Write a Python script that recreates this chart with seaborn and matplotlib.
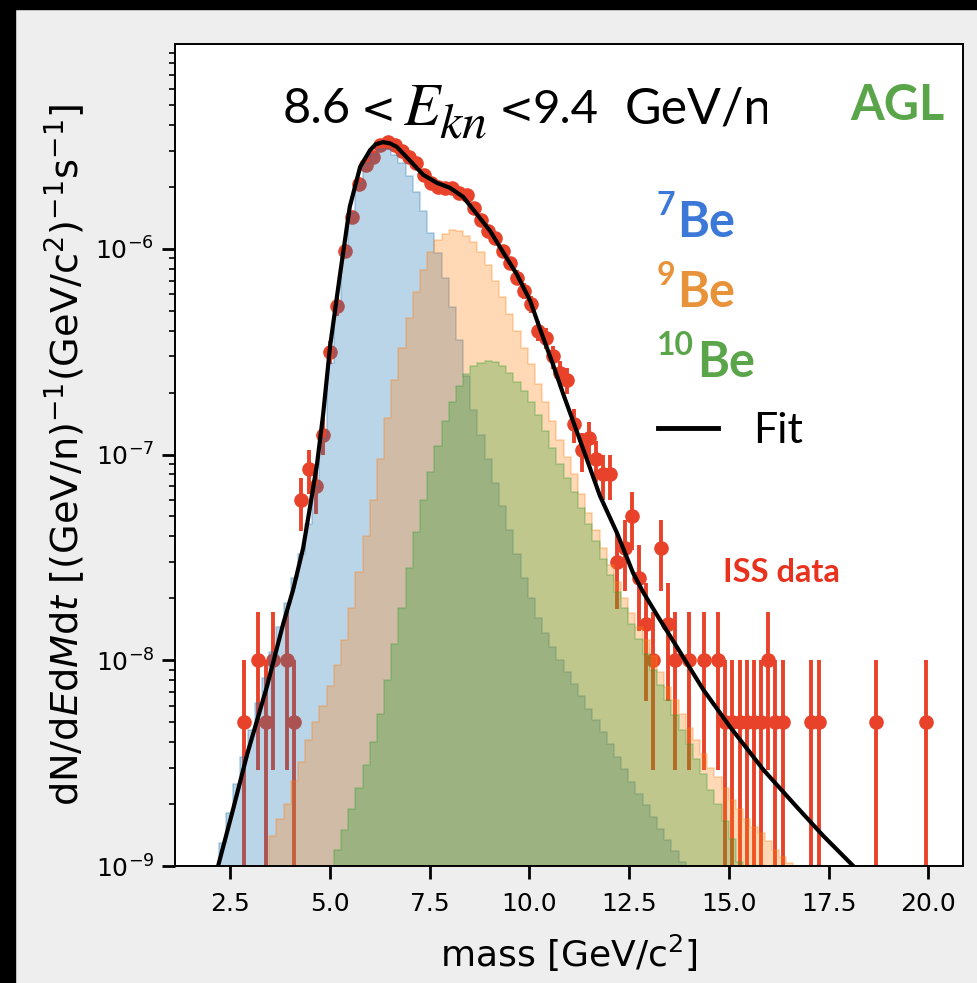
import numpy as np
import matplotlib
matplotlib.use("Agg")
import matplotlib.pyplot as plt
import seaborn as sns
from matplotlib.colors import to_rgba
from matplotlib.transforms import Bbox, TransformedBbox
from matplotlib.patches import Rectangle
from matplotlib.lines import Line2D

# ------------------------------------------------------------------
# values
# ------------------------------------------------------------------
bin_width = 0.18  # GeV/c^2, same binning for ISS data and templates

# template histograms, flux per bin in units of 1e-9, from the first lower edge on
be7_first_edge = 2.22
be7_flux = [1.3, 1.8, 2.5, 3.4, 4.6, 6.2, 8.2, 11, 14.5, 19, 25, 33, 46, 70, 120,
            280, 540, 950, 1500, 2100, 2600, 2900, 3050, 3050, 2850, 2600, 2250,
            1880, 1520, 1200, 950, 720, 520, 360, 240, 165, 125, 95, 73, 56, 43,
            33, 25, 20, 16, 13.5, 11.6, 10.0, 8.8, 7.7, 6.7, 5.8, 5.1, 4.5, 3.9,
            3.4, 2.95, 2.55, 2.25, 1.97, 1.73, 1.52, 1.34, 1.18, 1.04]

be9_first_edge = 3.48
be9_flux = [1.4, 1.7, 2.0, 2.6, 3.2, 4.1, 5.0, 6.0, 7.5, 9.5, 12.5, 18, 27, 40, 60,
            95, 150, 230, 330, 460, 620, 790, 960, 1100, 1180, 1230, 1220, 1160,
            1080, 960, 830, 700, 580, 480, 400, 330, 275, 220, 180, 145, 118, 97,
            80, 64, 52, 43, 35, 29, 24, 20, 17, 14.5, 12.5, 10.5, 8.8, 7.4, 6.4,
            5.5, 4.7, 4.1, 3.5, 3.0, 2.7, 2.4, 2.1, 1.9, 1.7, 1.55, 1.45, 1.32,
            1.2, 1.1, 1.03]

be10_first_edge = 5.10
be10_flux = [1.2, 1.5, 1.9, 2.4, 3.1, 4.0, 5.5, 8.0, 12, 18, 28, 42, 60, 82, 110,
             145, 180, 215, 245, 268, 280, 285, 282, 268, 248, 226, 203, 180, 155,
             130, 108, 90, 77, 66, 55, 46, 38, 31, 26, 21.5, 18, 15, 12.7, 10.7,
             9.0, 7.6, 6.4, 5.4, 4.6, 3.9, 3.3, 2.8, 2.35, 2.0, 1.65, 1.35, 1.05]

# ISS data: bin centre and number of events (empty bins left out)
iss_mass = [2.85, 3.21, 3.39, 3.57, 3.93, 4.11, 4.29, 4.47, 4.65, 4.83, 5.01, 5.19,
            5.37, 5.55, 5.73, 5.91, 6.09, 6.27, 6.45, 6.63, 6.81, 6.99, 7.17, 7.35,
            7.53, 7.71, 7.89, 8.07, 8.25, 8.43, 8.61, 8.79, 8.97, 9.15, 9.33, 9.51,
            9.69, 9.87, 10.05, 10.23, 10.41, 10.59, 10.77, 10.95, 11.13, 11.31,
            11.49, 11.67, 11.85, 12.03, 12.21, 12.39, 12.57, 12.75, 12.93, 13.11,
            13.29, 13.47, 13.65, 14.01, 14.37, 14.73, 14.91, 15.09, 15.27, 15.45,
            15.63, 15.81, 15.99, 16.17, 16.35, 17.07, 17.25, 18.69, 19.95]
iss_counts = [1, 2, 1, 2, 2, 1, 12, 17, 14, 25, 63, 105, 196, 287, 414, 512, 560,
              640, 664, 640, 600, 560, 520, 455, 420, 400, 395, 395, 375, 365, 315,
              275, 245, 225, 195, 170, 145, 125, 108, 80, 74, 60, 50, 46, 28, 21, 24,
              19, 16, 16, 6, 7, 10, 5, 3, 2, 7, 3, 2, 2, 2, 2, 1, 1, 1, 1, 1, 1, 2,
              1, 1, 1, 1, 1, 1]
flux_per_event = 5e-9

# fit curve, flux in units of 1e-9
fit_mass = [2.2, 2.58, 2.93, 3.42, 3.83, 4.08, 4.33, 4.5, 4.68, 4.83, 5.01, 5.26,
            5.5, 5.76, 6.01, 6.15, 6.33, 6.5, 6.68, 7.01, 7.34, 7.69, 8.01, 8.34,
            8.69, 9.02, 9.34, 9.69, 10.02, 10.27, 10.6, 10.85, 11.45, 11.77, 12.2,
            12.6, 12.85, 13.2, 13.7, 14.36, 15.03, 15.87, 16.7, 17.37, 18.12]
fit_flux = [1.0, 1.9, 3.5, 7.4, 15, 22, 35, 55, 90, 155, 340, 760, 1600, 2500,
            3020, 3220, 3300, 3260, 3130, 2680, 2290, 2090, 1980, 1790, 1470, 1220,
            965, 750, 560, 407, 272, 197, 94, 63, 41.5, 26.6, 21.5, 16.6, 11.6,
            7.2, 4.75, 2.93, 1.94, 1.40, 1.0]

# ------------------------------------------------------------------
# plotting
# ------------------------------------------------------------------
W, H = 978, 983
plt.rcParams['mathtext.fontset'] = 'dejavusans'
fig, ax = plt.subplots(figsize=(W / 100, H / 100), dpi=100)
fig.patch.set_facecolor('#eeeeee')
fig.subplots_adjust(left=175 / W, right=963 / W, bottom=1 - 866 / H, top=1 - 44 / H)

# dark frame of the screenshot (top and left)
fig.patches.append(Rectangle((0, 1 - 9 / H), 1, 9 / H, transform=fig.transFigure,
                             color='black', zorder=0))
fig.patches.append(Rectangle((0, 0), 15 / W, 1, transform=fig.transFigure,
                             color='black', zorder=0))

red = '#e8432a'


def template_hist(first_edge, flux, color):
    edges = np.round(first_edge + bin_width * np.arange(len(flux) + 1), 2)
    centres = edges[:-1] + bin_width / 2
    sns.histplot(x=centres, weights=np.array(flux) * 1e-9, bins=list(edges),
                 element='step', fill=True, facecolor=to_rgba(color, 0.3),
                 edgecolor=to_rgba(color, 0.3), linewidth=1.2, ax=ax, zorder=2)


# ISS data below the semi transparent templates
iss_flux = np.array(iss_counts) * flux_per_event
iss_err = np.sqrt(iss_counts) * flux_per_event
ax.errorbar(iss_mass, iss_flux, yerr=iss_err, fmt='o', color=red, ms=9.5,
            elinewidth=2.8, capsize=0, zorder=1)

template_hist(be7_first_edge, be7_flux, 'tab:blue')
template_hist(be9_first_edge, be9_flux, 'tab:orange')
template_hist(be10_first_edge, be10_flux, 'tab:green')

sns.lineplot(x=fit_mass, y=np.array(fit_flux) * 1e-9, color='black', lw=3,
             estimator=None, sort=False, ax=ax, zorder=3)

ax.set_yscale('log')
ax.set_xlim(1.12, 20.87)
ax.set_ylim(1e-9, 9.9e-6)
ax.set_facecolor('white')

ax.set_xlabel(r'mass [GeV/c$^2$]', fontsize=26, labelpad=12)
ax.set_ylabel(r'dN/d$E$d$M$d$t$ [(GeV/n)$^{-1}$(GeV/c$^2$)$^{-1}$s$^{-1}$]',
              fontsize=27.5, labelpad=6)
ax.tick_params(axis='both', which='major', labelsize=18, length=9.5, width=2.0)
ax.tick_params(axis='x', which='major', pad=9)
ax.tick_params(axis='y', which='major', pad=5.5)
ax.tick_params(axis='y', which='minor', length=4.5, width=1.2)
for sp in ax.spines.values():
    sp.set_linewidth(1.4)

# ------------------------------------------------------------------
# annotations (pasted labels in the original)
# ------------------------------------------------------------------


def axpos(px, py):
    return (px - 175) / 788, (866 - py) / 822


lab = 'Lato'
# the energy bin label is cut at its right end in the original
title_clip = TransformedBbox(Bbox([[0, 0], [767 / W, 1]]), fig.transFigure)
pieces = [('8.6', 283, 123, 35, lab),
          ('<', 361, 123, 30, 'DejaVu Sans'),
          (r'$E$', 403, 125, 43, 'stix'),
          (r'$kn$', 439, 137, 36, 'stix'),
          ('<', 499, 123, 30, 'DejaVu Sans'),
          ('9.4', 533, 123, 34, lab),
          ('GeV/n', 625, 123, 36, lab)]
for txt, px, py, fs, fam in pieces:
    x0, y0 = axpos(px, py)
    if fam == 'stix':
        t = ax.text(x0, y0, txt, transform=ax.transAxes, fontsize=fs,
                    math_fontfamily='stix', va='baseline', ha='left')
    else:
        t = ax.text(x0, y0, txt, transform=ax.transAxes, fontsize=fs,
                    family=fam, va='baseline', ha='left')
    t.set_clip_on(True)
    t.set_clip_box(title_clip)

x0, y0 = axpos(850, 120)
ax.text(x0, y0, 'AGL', transform=ax.transAxes, fontsize=35, family=lab,
        fontweight='bold', color='#5aa54a', va='baseline')

isotopes = [('7', 'Be', '#3b78d8', 237, 677),
            ('9', 'Be', '#e8923a', 307, 677),
            ('10', 'Be', '#5aa54a', 377, 697)]
for sup, name, col, base, bx in isotopes:
    x0, y0 = axpos(657, base - 22)
    ax.text(x0, y0, sup, transform=ax.transAxes, fontsize=23, family=lab,
            fontweight='bold', color=col, va='baseline')
    x0, y0 = axpos(bx, base)
    ax.text(x0, y0, name, transform=ax.transAxes, fontsize=35, family=lab,
            fontweight='bold', color=col, va='baseline')

xa, ya = axpos(658, 428)
xb, _ = axpos(718, 428)
ax.add_line(Line2D([xa, xb], [ya, ya], transform=ax.transAxes, color='black', lw=3.5))
x0, y0 = axpos(753, 443)
ax.text(x0, y0, 'Fit', transform=ax.transAxes, fontsize=31, family=lab, va='baseline')

x0, y0 = axpos(723, 582)
ax.text(x0, y0, 'ISS data', transform=ax.transAxes, fontsize=23.5, family=lab,
        fontweight='bold', color='#e8321e', va='baseline')

fig.savefig('out.png', dpi=100, facecolor=fig.get_facecolor())
